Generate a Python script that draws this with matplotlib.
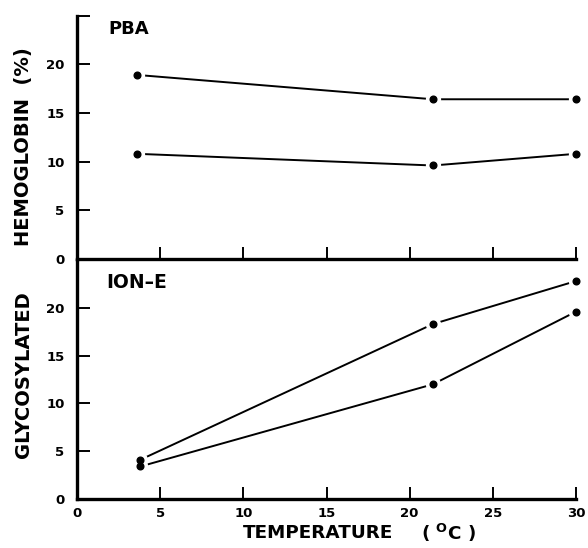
import matplotlib
matplotlib.use("Agg")
import matplotlib.pyplot as plt

plt.rcParams['font.family'] = ['DejaVu Sans']
plt.rcParams['mathtext.fontset'] = 'custom'
plt.rcParams['mathtext.rm'] = 'DejaVu Sans:bold'
plt.rcParams['mathtext.sf'] = 'DejaVu Sans:bold'

# Data
temperature = [3.6, 21.4, 30.0]
pba_upper = [18.9, 16.4, 16.4]
pba_lower = [10.8, 9.6, 10.8]
ione_temperature = [3.8, 21.4, 30.0]
ione_upper = [4.1, 18.3, 22.8]
ione_lower = [3.4, 12.0, 19.6]

x_ticks = [0, 5, 10, 15, 20, 25, 30]
y_ticks = [0, 5, 10, 15, 20, 25]
y_labels = ['0', '5', '10', '15', '20', '']

W, H = 588, 548
fig = plt.figure(figsize=(W / 100, H / 100), dpi=100)

def frac(x0, y_top, x1, y_bot):
    return [x0 / W, 1 - y_bot / H, (x1 - x0) / W, (y_bot - y_top) / H]

ax_top = fig.add_axes(frac(77, 15.5, 576, 259))
ax_bot = fig.add_axes(frac(77, 260, 576, 499))

def style(ax, show_xlabels):
    ax.set_xlim(0, 30)
    ax.set_ylim(0, 25)
    for s in ['top', 'right']:
        ax.spines[s].set_visible(False)
    for s in ['left', 'bottom']:
        ax.spines[s].set_linewidth(2.4)
        ax.spines[s].set_zorder(5)
    ax.set_xticks(x_ticks)
    ax.set_yticks(y_ticks)
    ax.set_yticklabels(y_labels)
    if not show_xlabels:
        ax.set_xticklabels([])
    ax.tick_params(direction='in', length=9, width=1.4, labelsize=9.5)
    ax.tick_params(axis='x', pad=6)
    ax.tick_params(axis='y', pad=9)
    for lab in ax.get_xticklabels() + ax.get_yticklabels():
        lab.set_fontweight('bold')
    ax.patch.set_alpha(0)

def draw_series(ax, xs, ys_list):
    for ys in ys_list:
        ax.plot(xs, ys, color='black', lw=1.4, zorder=2, clip_on=False)
    for ys in ys_list:
        ax.plot(xs, ys, ls='none', marker='o', markersize=10, color='white',
                zorder=3, clip_on=False)
    for ys in ys_list:
        ax.plot(xs, ys, ls='none', marker='o', markersize=4.8, color='black',
                zorder=4, clip_on=False)

draw_series(ax_top, temperature, [pba_upper, pba_lower])
draw_series(ax_bot, ione_temperature, [ione_upper, ione_lower])

style(ax_top, False)
style(ax_bot, True)

fig.text(108 / W, 1 - 29 / H, 'PBA', fontsize=13, fontweight='bold',
         ha='left', va='center')
fig.text(106 / W, 1 - 283 / H, 'ION\u2013E', fontsize=13.5, fontweight='bold',
         ha='left', va='center')

fig.text(24 / W, 1 - 147 / H, 'HEMOGLOBIN  (%)', rotation=90, fontsize=14,
         fontweight='bold', ha='center', va='center')
fig.text(24 / W, 1 - 375 / H, 'GLYCOSYLATED', rotation=90, fontsize=14,
         fontweight='bold', ha='center', va='center')
fig.text(243 / W, 1 - 533 / H, 'TEMPERATURE', fontsize=13.2,
         fontweight='bold', ha='left', va='center')
fig.text(421 / W, 1 - 533 / H, r'( $^{\mathrm{O}}$C )', fontsize=13.2,
         fontweight='bold', ha='left', va='center')

fig.savefig('out.png', dpi=100)
